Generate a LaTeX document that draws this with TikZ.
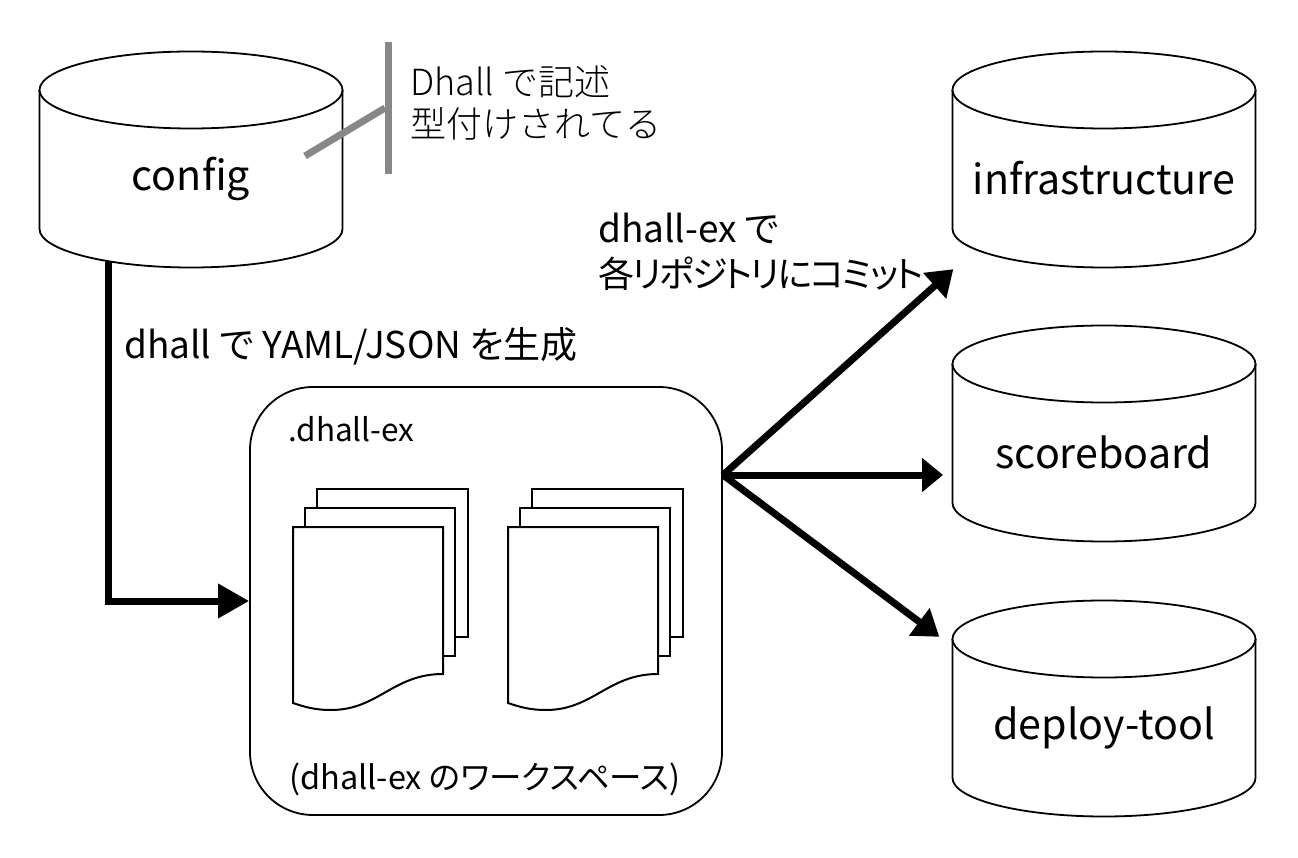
\documentclass[tikz,border=0pt]{standalone}
\usepackage{fontspec}
\setmainfont{Noto Sans CJK JP}[RawFeature=+palt]
\newfontfamily\lightfont{Noto Sans CJK JP Light}
\usetikzlibrary{arrows.meta,calc}
\newcommand\fs[1]{\fontsize{#1}{#1}\selectfont}
\newcommand\dbcyl[4]{%
  \draw[outline] (#2,#3+39) ellipse [x radius=151.5,y radius=38.5];
  \draw[outline] (#2-151.5,#3+39) -- (#2-151.5,#3+178)
    .. controls (#2-151.5,#3+199) and (#2-84,#3+216.5) .. (#2,#3+216.5)
    .. controls (#2+84,#3+216.5) and (#2+151.5,#3+199) .. (#2+151.5,#3+178) -- (#2+151.5,#3+39);
  \draw[outline] (#2-151.5,#3+39) .. controls (#2-151.5,#3+60) and (#2-84,#3+77.5) .. (#2,#3+77.5)
    .. controls (#2+84,#3+77.5) and (#2+151.5,#3+60) .. (#2+151.5,#3+39);
  \node[cylbody] (#1) at (#2,#3+127.5) {#4};}
\newcommand\docstack[1]{%
  \draw[sheet] (#1+24,489) -- (#1+175,489) -- (#1+175,637) -- (#1+24,637) -- cycle;
  \draw[sheet] (#1+12,508) -- (#1+162,508) -- (#1+162,656) -- (#1+12,656) -- cycle;
  \draw[sheet] (#1,527) -- (#1+150,527) -- (#1+150,674)
    .. controls (#1+100,674) and (#1+85,710) .. (#1+38,710)
    .. controls (#1+22,710) and (#1+12,707) .. (#1,703) -- cycle;}
\tikzset{
  x=1pt,y=-1pt,
  outline/.style={line width=1.8pt,draw=black,fill=white},
  sheet/.style={line width=2pt,draw=black,fill=white,line join=miter},
  cylbody/.style={minimum width=303pt,minimum height=103pt,inner sep=0pt,font=\fs{41.2}},
  flow/.style={line width=7pt,draw=black,-{Triangle[length=#1,width=33pt]},line join=miter},
  flow/.default={21pt},
  callout/.style={line width=7pt,draw=black!47},
  lbl/.style={inner sep=0pt,anchor=base west,align=left},
  workspace/.style={line width=1.8pt,draw=black,fill=white,rounded corners=63pt,minimum width=472pt,minimum height=428pt,inner sep=0pt},
}
\begin{document}
\begin{tikzpicture}
\useasboundingbox (0,0) rectangle (1298,858);
\fill[white] (0,0) rectangle (1298,858);
% workspace
\node[workspace] (box) at (486,601) {};
\node[lbl,font=\fs{31.5}] (boxname) at (288,441) {.dhall-ex};
\node[lbl,font=\fs{32.5}] (boxnote) at (289,789) {(dhall-ex のワークスペース)};
\docstack{293}
\docstack{508}
% cylinders
\dbcyl{config}{191}{51}{config}
\dbcyl{infra}{1104}{51}{infrastructure}
\dbcyl{score}{1104}{325}{scoreboard}
\dbcyl{deploy}{1104}{600}{deploy-tool}
% callout
\coordinate (noteTop) at (388,42);
\coordinate (noteBottom) at (388,174);
\coordinate (noteTip) at (305,156);
\coordinate (noteJoin) at (385,108);
\draw[callout] (noteTop) -- (noteBottom);
\draw[callout] (noteTip) -- (noteJoin);
\node[lbl,font=\fs{36}\lightfont] (note1) at (410,96) {Dhall で記述};
\node[lbl,font=\fs{36}\lightfont] (note2) at (410,138) {型付けされてる};
% connectors
\coordinate (configOut) at (108,262);
\draw[flow=31pt] (configOut) |- (box.west);
\coordinate (fan) at (723,475);
\coordinate (infraIn) at ($(infra.south west)+(1,39)$);
\coordinate (scoreIn) at (943,475);
\coordinate (deployIn) at ($(deploy.north west)+(-13,-39)$);
\draw[flow=25pt] (fan) -- (infraIn);
\draw[flow] (fan) -- (scoreIn);
\draw[flow=25pt] (fan) -- (deployIn);
% labels
\node[lbl,font=\fs{37}] (genlabel) at (124,359) {dhall で YAML/JSON を生成};
\node[lbl,font=\fs{37}] (commit1) at (598,243) {dhall-ex で};
\node[lbl,font=\fs{36}\addfontfeature{LetterSpace=-6}] (commit2) at (598,288) {各リポジトリにコミット};
\end{tikzpicture}
\end{document}
